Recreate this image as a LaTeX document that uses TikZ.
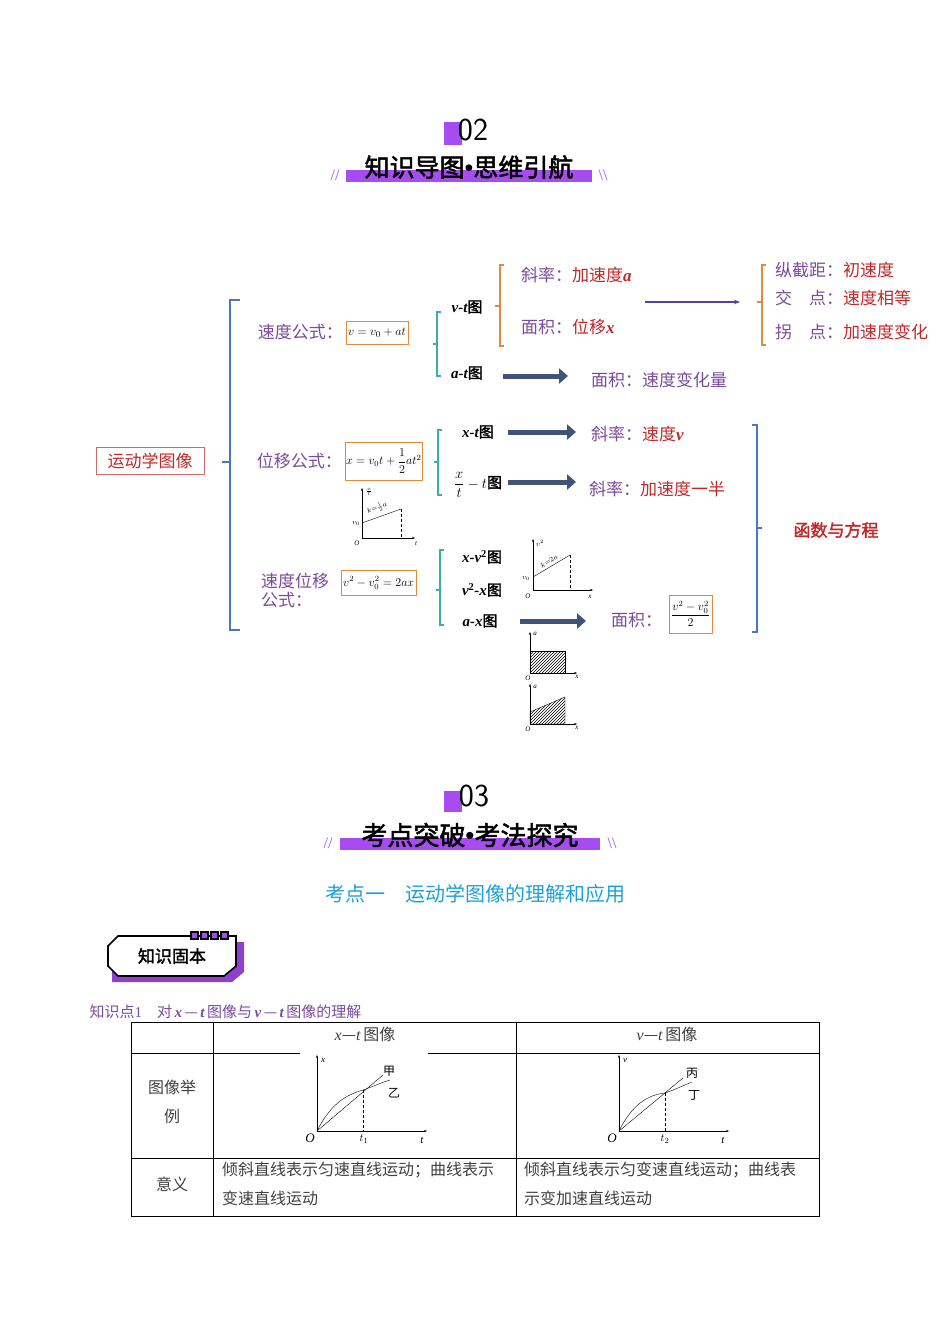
\documentclass[tikz,border=0pt]{standalone}
\usepackage{fontspec}
\usepackage{amsmath}
\setmainfont{Liberation Serif}
\newfontfamily\cjk{Noto Sans CJK SC}
\newfontfamily\cjkb[FakeBold=2]{Noto Sans CJK SC}
\usetikzlibrary{arrows.meta,patterns}
\definecolor{ttl}{HTML}{A64CF0}
\definecolor{ptxt}{HTML}{7A4A9C}
\definecolor{rtxt}{HTML}{C0282A}
\definecolor{obr}{HTML}{E08A3C}
\definecolor{tbr}{HTML}{3AAEA8}
\definecolor{bbr}{HTML}{4A78C0}
\definecolor{darr}{HTML}{3F5478}
\definecolor{parr}{HTML}{5A3EA8}
\definecolor{cyt}{HTML}{1DA0D8}
\newcommand\bi[1]{{\rmfamily\bfseries\itshape #1}}
\tikzset{
  pt/.style={text=ptxt,font=\cjk\fontsize{17}{19}\selectfont,inner sep=1pt},
  lab/.style={font=\cjkb\fontsize{15}{18}\selectfont,inner sep=1pt},
  fbox/.style={draw=obr,fill=white,inner sep=2pt,font=\fontsize{13}{15}\selectfont},
  fat/.style={darr,line width=5pt,-{Triangle[length=9pt,width=15pt]}},
  brk/.style={line width=1.3pt},
  ax/.style={thin,-{Stealth[length=3pt]}},
  small/.style={font=\fontsize{7}{8}\selectfont\itshape,inner sep=1pt},
  cell/.style={font=\cjk\fontsize{16}{29}\selectfont,text=black!75}
}
\begin{document}
\begin{tikzpicture}[x=1pt,y=-1pt]
  \useasboundingbox (0,0) rectangle (950,1344);

  % section 02
  \fill[ttl] (444,122) rectangle (462,145);
  \node[font=\fontsize{32}{34}\selectfont\sffamily] (num2) at (473,130) {02};
  \fill[ttl] (346,170) rectangle (592,182);
  \node[font=\cjkb\fontsize{25}{28}\selectfont] (title2) at (469,167) {知识导图{\rmfamily\bfseries\char"2022}思维引航};
  \node[text=ttl,font=\fontsize{16}{16}\selectfont] (sl1) at (335,175) {//};
  \node[text=ttl,font=\fontsize{16}{16}\selectfont] (sl2) at (603,175) {\textbackslash\textbackslash};

  % left root
  \node[draw=rtxt!70,text=rtxt,font=\cjk\fontsize{17}{19}\selectfont,minimum width=108pt,minimum height=27pt] (root) at (150,461) {运动学图像};
  \draw[bbr,brk] (240,300) -- (230,300) -- (230,630) -- (240,630);
  \draw[bbr,brk] (230,462) -- (222,462);

  % velocity formula
  \node[pt,anchor=east] (vf) at (344,332) {速度公式：};
  \node[fbox,anchor=west,minimum height=23pt] (vfb) at (346,333) {$v=v_0+at$};
  \draw[tbr,brk] (441,312) -- (437,312) -- (437,376) -- (441,376);
  \draw[tbr,brk] (437,344) -- (433,344);
  \node[lab] (vt) at (467,307) {\bi{v-t}图};
  \node[lab] (at) at (467,373) {\bi{a-t}图};
  \draw[obr,brk] (504,265) -- (500,265) -- (500,346) -- (504,346);
  \draw[obr,brk] (500,306) -- (495,306);
  \node[pt,anchor=west] (slp1) at (520,275) {斜率：\textcolor{rtxt}{加速度\bi{a}}};
  \node[pt,anchor=west] (area1) at (520,327) {面积：\textcolor{rtxt}{位移\bi{x}}};
  \coordinate (pa1) at (645,302);
  \coordinate (pa2) at (740,302);
  \draw[parr,line width=2.5pt,-{Stealth[length=6pt]}] (pa1) -- (pa2);
  \draw[obr,brk] (766,265) -- (762,265) -- (762,345) -- (766,345);
  \draw[obr,brk] (762,302) -- (757,302);
  \node[pt,anchor=west] (i1) at (774,270) {纵截距：\textcolor{rtxt}{初速度}};
  \node[pt,anchor=west] (i2) at (774,298) {交\quad 点：\textcolor{rtxt}{速度相等}};
  \node[pt,anchor=west] (i3) at (774,332) {拐\quad 点：\textcolor{rtxt}{加速度变化}};
  \node[pt,anchor=west] (area2) at (590,380) {面积：速度变化量};
  \coordinate (ea1) at (503,376);
  \coordinate (ea2) at (568,376);
  \draw[fat] (ea1) -- (ea2);

  % displacement formula
  \node[pt,anchor=east] (xf) at (343,461) {位移公式：};
  \node[fbox,anchor=west,minimum height=38pt,inner sep=1pt,font=\fontsize{12}{14}\selectfont] (xfb) at (345,461) {$x=v_0t+\dfrac12at^2$};
  \draw[tbr,brk] (442,430) -- (438,430) -- (438,495) -- (442,495);
  \draw[tbr,brk] (438,462) -- (434,462);
  \node[lab] (xt) at (478,432) {\bi{x-t}图};
  \node[lab] (xtt) at (478,485) {$\dfrac{x}{t}-t$图};
  \node[pt,anchor=west] (slp2) at (590,434) {斜率：\textcolor{rtxt}{速度\bi{v}}};
  \node[pt,anchor=west] (slp3) at (588,489) {斜率：\textcolor{rtxt}{加速度一半}};
  \coordinate (ex1) at (508,432);
  \coordinate (ex2) at (576,432);
  \coordinate (ex3) at (508,482);
  \coordinate (ex4) at (576,482);
  \draw[fat] (ex1) -- (ex2);
  \draw[fat] (ex3) -- (ex4);
  % small x/t graph
  \draw[ax] (362,538) -- (415,538);
  \draw[ax] (362,538) -- (362,488);
  \draw[thin] (362,523) -- (401,509);
  \draw[thin,densely dashed] (401,509) -- (401,538);
  \node[small] at (357,543) {O};
  \node[small] at (416,544) {t};
  \node[small] at (356,523) {$v_0$};
  \node[small] at (369,492) {$\frac{x}{t}$};
  \node[small,rotate=20] at (377,508) {$k{=}\frac12a$};

  % velocity-displacement formula
  \node[pt,anchor=west,align=left] (vxf) at (260,590) {速度位移\\公式：};
  \node[fbox,anchor=west,minimum height=25pt,font=\fontsize{12}{14}\selectfont] (vxfb) at (341,583) {$v^2-v_0^2=2ax$};
  \draw[tbr,brk] (444,550) -- (440,550) -- (440,625) -- (444,625);
  \draw[tbr,brk] (440,590) -- (436,590);
  \node[lab] (xv) at (482,557) {\bi{x-v}$^{\mathbf 2}$图};
  \node[lab] (vx) at (482,590) {\bi{v}$^{\mathbf 2}$\bi{-x}图};
  \node[lab] (ax) at (480,621) {\bi{a-x}图};
  \node[pt,anchor=west] (area3) at (610,620) {面积：};
  \node[fbox,anchor=west,minimum height=38pt,font=\fontsize{12}{14}\selectfont] (area3b) at (669,614) {$\dfrac{v^2-v_0^2}{2}$};
  \coordinate (ev1) at (520,621);
  \coordinate (ev2) at (586,621);
  \draw[fat] (ev1) -- (ev2);
  % small v^2 graph
  \draw[ax] (533,590) -- (593,590);
  \draw[ax] (533,590) -- (533,539);
  \draw[thin] (533,577) -- (570,555);
  \draw[thin,densely dashed] (570,555) -- (570,590);
  \node[small] at (528,596) {O};
  \node[small] at (590,597) {x};
  \node[small] at (526,578) {$v_0$};
  \node[small] at (540,543) {$v^2$};
  \node[small,rotate=32] at (549,561) {$k{=}2a$};
  % small a-x graphs
  \draw[pattern=north east lines] (530,651) rectangle (565,673);
  \draw[ax] (530,673) -- (577,673);
  \draw[ax] (530,673) -- (530,632);
  \node[small] at (528,678) {O};
  \node[small] at (577,677) {x};
  \node[small] at (535,634) {a};
  \draw[pattern=north east lines] (530,712) -- (565,697) -- (565,724) -- (530,724) -- cycle;
  \draw[ax] (530,724) -- (577,724);
  \draw[ax] (530,724) -- (530,684);
  \node[small] at (528,729) {O};
  \node[small] at (577,728) {x};
  \node[small] at (535,687) {a};

  % right bracket
  \draw[bbr,brk] (752,425) -- (757,425) -- (757,632) -- (752,632);
  \draw[bbr,brk] (757,528) -- (762,528);
  \node[text=rtxt,font=\cjkb\fontsize{17}{19}\selectfont] (fn) at (836,530) {函数与方程};

  % section 03
  \fill[ttl] (444,791) rectangle (462,812);
  \node[font=\fontsize{32}{34}\selectfont\sffamily] (num3) at (474,796) {03};
  \fill[ttl] (340,838) rectangle (600,850);
  \node[font=\cjkb\fontsize{26}{28}\selectfont] (title3) at (470,835) {考点突破{\rmfamily\bfseries\char"2022}考法探究};
  \node[text=ttl,font=\fontsize{16}{16}\selectfont] (sl3) at (328,843) {//};
  \node[text=ttl,font=\fontsize{16}{16}\selectfont] (sl4) at (612,843) {\textbackslash\textbackslash};
  \node[text=cyt,font=\cjk\fontsize{20}{22}\selectfont] (kd) at (475,894) {考点一\quad 运动学图像的理解和应用};

  % badge
  \fill[ttl!85!black] (112,942) -- (244,942) -- (244,972) -- (232,982) -- (112,982) -- cycle;
  \draw[line width=1.6pt,fill=white] (118,936) -- (236,936) -- (236,966) -- (224,976) -- (118,976) -- (108,966) -- (108,946) -- cycle;
  \foreach \k in {0,1,2,3}
    \draw[line width=1.2pt,fill=ttl] (191+\k*10,932) rectangle (198+\k*10,939);
  \node[font=\cjkb\fontsize{17}{20}\selectfont] (badge) at (172,956) {知识固本};

  \node[anchor=west,text=ptxt,font=\cjk\fontsize{15}{16}\selectfont] (kp) at (86,1012) {知识点{\rmfamily 1}\quad 对\,\bi{x}\,—\,\bi{t}\,图像与\,\bi{v}\,—\,\bi{t}\,图像的理解};

  % table
  \draw[thin] (131,1022) rectangle (819,1216);
  \draw[thin] (131,1053) -- (300,1053);
  \draw[thin] (428,1053) -- (819,1053);
  \draw[thin] (131,1158) -- (819,1158);
  \draw[thin] (213,1022) -- (213,1216);
  \draw[thin] (516,1022) -- (516,1216);
  \node[cell] (h1) at (365,1034) {{\rmfamily\itshape x}—{\rmfamily\itshape t}\,图像};
  \node[cell] (h2) at (667,1034) {{\rmfamily\itshape v}—{\rmfamily\itshape t}\,图像};
  \node[cell,align=center] (r1) at (172,1102) {图像举\\例};
  \node[cell] (r2) at (172,1184) {意义};
  \node[cell,anchor=north west,align=left,inner sep=2pt] (c1) at (220,1160) {倾斜直线表示匀速直线运动；曲线表示\\变速直线运动};
  \node[cell,anchor=north west,align=left,inner sep=2pt] (c2) at (522,1160) {倾斜直线表示匀变速直线运动；曲线表\\示变加速直线运动};
  % x-t example
  \draw[ax] (317,1131) -- (427,1131);
  \draw[ax] (317,1131) -- (317,1055);
  \draw[thin] (317,1131) -- (383,1075);
  \draw[thin] (317,1131) .. controls (330,1105) and (345,1095) .. (363,1090) .. controls (372,1087) and (380,1083) .. (390,1080);
  \draw[thin,densely dashed] (363,1090) -- (363,1131);
  \node[font=\fontsize{13}{14}\selectfont\itshape] at (310,1138) {O};
  \node[font=\fontsize{11}{12}\selectfont\itshape] at (364,1139) {$t_1$};
  \node[font=\fontsize{11}{12}\selectfont\itshape] at (422,1140) {t};
  \node[font=\fontsize{9}{10}\selectfont\itshape] at (323,1060) {x};
  \node[font=\cjk\fontsize{12}{13}\selectfont] at (389,1071) {甲};
  \node[font=\cjk\fontsize{12}{13}\selectfont] at (394,1093) {乙};
  % v-t example
  \draw[ax] (619,1131) -- (729,1131);
  \draw[ax] (619,1131) -- (619,1055);
  \draw[thin] (619,1131) -- (683,1078);
  \draw[thin] (619,1131) .. controls (632,1105) and (647,1095) .. (665,1093) .. controls (674,1090) and (682,1086) .. (692,1082);
  \draw[thin,densely dashed] (665,1093) -- (665,1131);
  \node[font=\fontsize{13}{14}\selectfont\itshape] at (612,1138) {O};
  \node[font=\fontsize{11}{12}\selectfont\itshape] at (665,1139) {$t_2$};
  \node[font=\fontsize{11}{12}\selectfont\itshape] at (723,1140) {t};
  \node[font=\fontsize{9}{10}\selectfont\itshape] at (625,1060) {v};
  \node[font=\cjk\fontsize{12}{13}\selectfont] at (692,1073) {丙};
  \node[font=\cjk\fontsize{12}{13}\selectfont] at (694,1095) {丁};
\end{tikzpicture}
\end{document}
